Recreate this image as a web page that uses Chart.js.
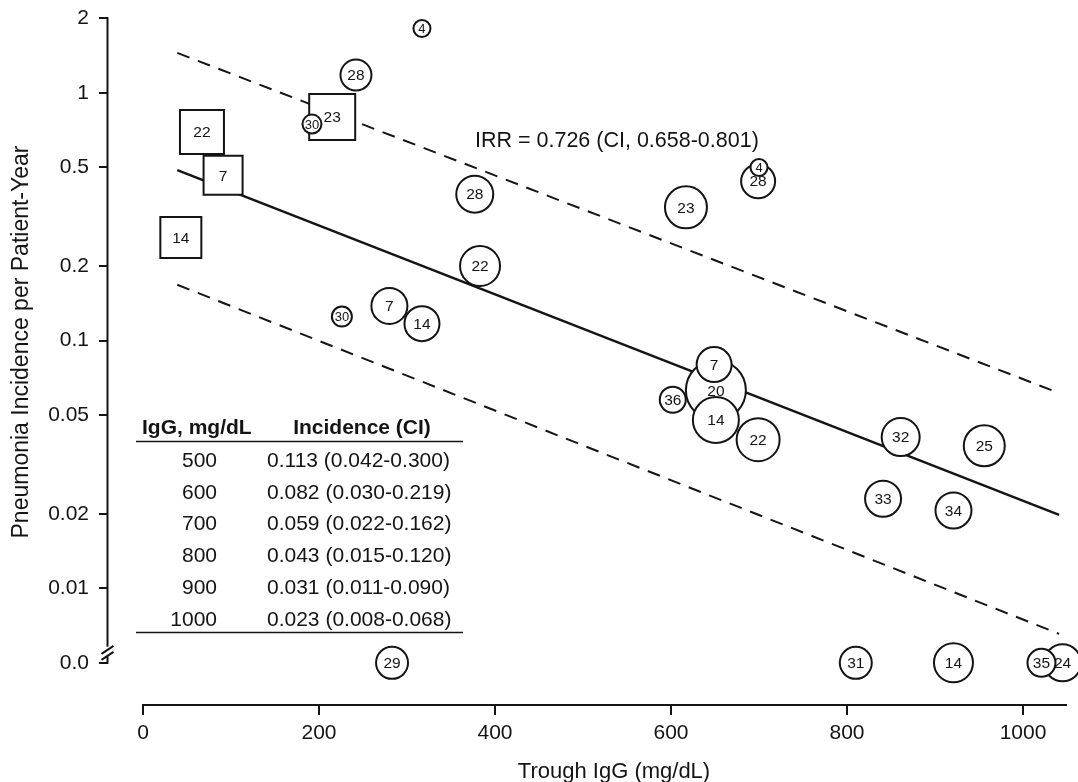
<!DOCTYPE html>
<html>
<head>
<meta charset="utf-8">
<script src="https://cdn.jsdelivr.net/npm/chart.js@4/dist/chart.umd.min.js"></script>
<style>
  html, body { margin: 0; padding: 0; background: #ffffff; }
  canvas { display: block; }
</style>
</head>
<body>
<canvas id="chart" width="1078" height="782"></canvas>
<script>
// ---------------- DATA ----------------
const xTickValues = [0, 200, 400, 600, 800, 1000];
const yTickValues = [2, 1, 0.5, 0.2, 0.1, 0.05, 0.02, 0.01, 0.005];
const yTickLabels = ['2', '1', '0.5', '0.2', '0.1', '0.05', '0.02', '0.01', '0.0'];
const ZERO_POSITION = 0.005; // zero incidence is plotted below the axis break

// Studies shown as squares
const squareStudy = ['22', '7', '14', '23'];
const squareIgG = [67, 91, 43, 215];
const squareIncidence = [0.695, 0.465, 0.261, 0.80];
const squareWeight = [44, 39, 41, 46];

// Studies shown as circles (drawing order)
const circleStudy = ['30', '28', '4', '28', '22', '23', '28', '4', '30', '7', '14', '29',
                     '20', '7', '14', '36', '22', '32', '25', '33', '34', '31', '14', '24', '35'];
const circleIgG = [192, 242, 317, 377, 383, 617, 699, 700, 226, 280, 317, 283,
                   651, 649, 651, 602, 699, 861, 956, 841, 921, 810, 921, 1045, 1021];
const circleIncidence = [0.748, 1.18, 1.82, 0.39, 0.20, 0.345, 0.44, 0.50, 0.125, 0.138, 0.117, 0,
                         0.063, 0.080, 0.0478, 0.0577, 0.0398, 0.0408, 0.0376, 0.023, 0.0206, 0, 0, 0, 0];
const circleWeight = [19, 31, 17, 37, 40, 42, 34, 17, 20, 36, 35, 32,
                      60, 35, 46, 26, 43, 38, 41, 36, 36, 32, 39, 37, 28];

// Fitted model and confidence band (end points)
const fitIgG = [39, 1041];
const fitIncidence = [0.488, 0.0198];
const upperBand = [1.45, 0.0614];
const lowerBand = [0.168, 0.00655];

// Inset table
const tableHeader = ['IgG, mg/dL', 'Incidence (CI)'];
const tableIgG = ['500', '600', '700', '800', '900', '1000'];
const tableIncidence = ['0.113 (0.042-0.300)', '0.082 (0.030-0.219)', '0.059 (0.022-0.162)',
                        '0.043 (0.015-0.120)', '0.031 (0.011-0.090)', '0.023 (0.008-0.068)'];
const irrText = 'IRR = 0.726 (CI, 0.658-0.801)';
const xTitle = 'Trough IgG (mg/dL)';
const yTitle = 'Pneumonia Incidence per Patient-Year';

// ---------------- BUILD ----------------
const FONT = '"Liberation Sans", Arial, Helvetica, sans-serif';
const INK = '#141414';
const plotY = v => (v === 0 ? ZERO_POSITION : v);

const squarePoints = squareIgG.map((x, i) => ({ x: x, y: plotY(squareIncidence[i]) }));
const circlePoints = circleIgG.map((x, i) => ({ x: x, y: plotY(circleIncidence[i]) }));
const pts = (xs, ys) => xs.map((x, i) => ({ x: x, y: ys[i] }));

// axis calibration (where the axis ends sit in the figure)
const AXIS = { x0: 143, x1000: 1023, y2: 18.3, y001: 588.3 };

const overlay = {
  id: 'overlay',
  beforeDatasetsDraw(chart) {
    const ctx = chart.ctx;
    const xs = chart.scales.x, ys = chart.scales.y;
    ctx.save();
    ctx.strokeStyle = INK;
    ctx.lineWidth = 2;
    ctx.lineCap = 'butt';
    // x axis line
    const yAxisPix = chart.chartArea.bottom;
    ctx.beginPath();
    ctx.moveTo(xs.getPixelForValue(0) - 1, yAxisPix);
    ctx.lineTo(xs.getPixelForValue(1050), yAxisPix);
    ctx.stroke();
    // y axis with break
    const xAxisPix = chart.chartArea.left - 0.5;
    const topPix = ys.getPixelForValue(2) - 1;
    const zeroPix = ys.getPixelForValue(ZERO_POSITION);
    ctx.beginPath();
    ctx.moveTo(xAxisPix, topPix);
    ctx.lineTo(xAxisPix, zeroPix - 16);
    ctx.moveTo(xAxisPix - 6, zeroPix - 9);
    ctx.lineTo(xAxisPix + 6, zeroPix - 17);
    ctx.moveTo(xAxisPix - 6, zeroPix - 3);
    ctx.lineTo(xAxisPix + 6, zeroPix - 11);
    ctx.moveTo(xAxisPix, zeroPix - 7);
    ctx.lineTo(xAxisPix, zeroPix + 1);
    ctx.stroke();
    ctx.restore();
  },
  afterDatasetsDraw(chart) {
    const ctx = chart.ctx;
    ctx.save();
    ctx.fillStyle = INK;
    ctx.textAlign = 'center';
    ctx.textBaseline = 'middle';
    const drawLabels = (dsIndex, labels, weights) => {
      const meta = chart.getDatasetMeta(dsIndex);
      meta.data.forEach((el, i) => {
        const size = weights[i] < 22 ? 13 : 15.5;
        ctx.font = size + 'px ' + FONT;
        ctx.fillText(labels[i], el.x, el.y + 1);
      });
    };
    drawLabels(0, circleStudy, circleWeight);
    drawLabels(1, squareStudy, squareWeight);
    ctx.restore();
  },
  afterDraw(chart) {
    const ctx = chart.ctx;
    ctx.save();
    ctx.fillStyle = INK;
    ctx.strokeStyle = INK;
    // IRR annotation
    ctx.font = '21.5px ' + FONT;
    ctx.textAlign = 'left';
    ctx.textBaseline = 'alphabetic';
    ctx.fillText(irrText, 475, 147);
    // Table
    ctx.font = 'bold 21px ' + FONT;
    ctx.textAlign = 'left';
    ctx.fillText(tableHeader[0], 142, 434);
    ctx.textAlign = 'center';
    ctx.fillText(tableHeader[1], 362, 434);
    ctx.lineWidth = 1.5;
    ctx.beginPath();
    ctx.moveTo(136, 441.5); ctx.lineTo(463, 441.5);
    ctx.moveTo(136, 632.5); ctx.lineTo(463, 632.5);
    ctx.stroke();
    ctx.font = '21px ' + FONT;
    tableIgG.forEach((v, i) => {
      const base = 466.7 + i * 31.8;
      ctx.textAlign = 'right';
      ctx.fillText(v, 217, base);
      ctx.textAlign = 'left';
      ctx.fillText(tableIncidence[i], 267, base);
    });
    // Axis titles
    ctx.font = '22px ' + FONT;
    ctx.textAlign = 'center';
    ctx.fillText(xTitle, 614, 778);
    ctx.save();
    ctx.translate(28, 342);
    ctx.rotate(-Math.PI / 2);
    ctx.font = '23px ' + FONT;
    ctx.fillText(yTitle, 0, 0);
    ctx.restore();
    ctx.restore();
  }
};

const chart = new Chart(document.getElementById('chart'), {
  type: 'scatter',
  data: {
    datasets: [
      {
        label: 'Circle studies',
        data: circlePoints,
        pointStyle: 'circle',
        pointRadius: circleWeight.map(w => w / 2),
        pointBackgroundColor: '#ffffff',
        pointBorderColor: INK,
        pointBorderWidth: 2,
        clip: false,
        order: 0
      },
      {
        label: 'Square studies',
        data: squarePoints,
        pointStyle: 'rect',
        pointRadius: squareWeight.map(w => w / Math.SQRT2),
        pointBackgroundColor: '#ffffff',
        pointBorderColor: INK,
        pointBorderWidth: 2,
        clip: false,
        order: 1
      },
      {
        type: 'line',
        label: 'Fit',
        data: pts(fitIgG, fitIncidence),
        showLine: true,
        borderColor: INK,
        borderWidth: 2.5,
        pointRadius: 0,
        fill: false,
        clip: false,
        order: 2
      },
      {
        type: 'line',
        label: 'Upper CI',
        data: pts(fitIgG, upperBand),
        showLine: true,
        borderColor: INK,
        borderWidth: 2,
        borderDash: [13, 9],
        pointRadius: 0,
        fill: false,
        clip: false,
        order: 2
      },
      {
        type: 'line',
        label: 'Lower CI',
        data: pts(fitIgG, lowerBand),
        showLine: true,
        borderColor: INK,
        borderWidth: 2,
        borderDash: [13, 9],
        pointRadius: 0,
        fill: false,
        clip: false,
        order: 2
      }
    ]
  },
  options: {
    responsive: false,
    devicePixelRatio: 1,
    animation: false,
    events: [],
    layout: { padding: { top: 0, right: 8, left: 0, bottom: 0 } },
    plugins: { legend: { display: false }, tooltip: { enabled: false }, title: { display: false } },
    scales: {
      x: {
        type: 'linear',
        min: -39.8,
        max: 1053.4,
        afterFit: s => { s.height = 77; },
        afterBuildTicks: s => { s.ticks = xTickValues.map(v => ({ value: v })); },
        border: { display: false },
        grid: { display: true, drawOnChartArea: false, drawTicks: true, tickLength: 10, color: INK, lineWidth: 2 },
        ticks: { font: { family: FONT, size: 21 }, color: INK, padding: 6, maxRotation: 0, autoSkip: false,
                 callback: v => String(v) }
      },
      y: {
        type: 'logarithmic',
        min: 0.00338,
        max: 2,
        afterFit: s => { s.width = 108; },
        afterBuildTicks: s => { s.ticks = yTickValues.map(v => ({ value: v })); },
        border: { display: false },
        grid: { display: true, drawOnChartArea: false, drawTicks: true, tickLength: 9, color: INK, lineWidth: 2 },
        ticks: {
          font: { family: FONT, size: 21 }, color: INK, padding: 10, autoSkip: false,
          callback: (v, i) => yTickLabels[i]
        }
      }
    }
  },
  plugins: [overlay]
});

// Fit the axis ranges to the plot box that Chart.js laid out
const pxPerUnit = (AXIS.x1000 - AXIS.x0) / 1000;
const pxPerDecade = (AXIS.y001 - AXIS.y2) / Math.log10(2 / 0.01);
for (let k = 0; k < 5; k++) {
  const a = chart.chartArea;
  const sx = chart.options.scales.x, sy = chart.options.scales.y;
  sx.min = (a.left - AXIS.x0) / pxPerUnit;
  sx.max = (a.right - AXIS.x0) / pxPerUnit;
  sy.max = Math.pow(10, Math.log10(2) + (AXIS.y2 - a.top) / pxPerDecade);
  sy.min = Math.pow(10, Math.log10(2) - (a.bottom - AXIS.y2) / pxPerDecade);
  chart.update('none');
}
</script>
</body>
</html>
